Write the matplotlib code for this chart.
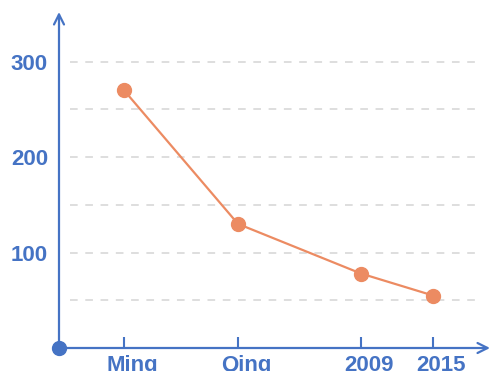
import matplotlib.pyplot as plt
import matplotlib.transforms as mtransforms

# data
periods = ["Ming", "Qing", "2009", "2015"]
x_pos = [0.65, 1.79, 3.02, 3.74]      # uneven spacing as in the picture
values = [270, 130, 78, 55]
y_major = [100, 200, 300]
y_minor = [50, 150, 250]

blue = "#4573C4"
orange = "#EC8B62"
grid_col = "#D4D4D4"

plt.rcParams["font.family"] = ["Liberation Sans", "DejaVu Sans"]

fig = plt.figure(figsize=(4.93, 3.71), dpi=100)
ax = fig.add_axes([59 / 493, 23 / 371, 431 / 493, 336 / 371])
ax.set_xlim(0, 4.31)
ax.set_ylim(0, 352)

# dashed gridlines
for y in y_major + y_minor:
    ax.plot([0.11, 4.19], [y, y], color=grid_col, lw=1.1, ls=(0, (5, 5)), zorder=1)

ax.plot(x_pos, values, color=orange, lw=1.6, marker="o", ms=10,
        markerfacecolor=orange, markeredgecolor=orange, zorder=3)

for s in ax.spines.values():
    s.set_visible(False)

# axes with arrows
arrow = dict(arrowstyle="->", color=blue, lw=1.6, mutation_scale=18,
             shrinkA=0, shrinkB=0)
ax.annotate("", xy=(1.0, 0), xytext=(0, 0), xycoords="axes fraction", arrowprops=arrow)
ax.annotate("", xy=(0, 1.0), xytext=(0, 0), xycoords="axes fraction", arrowprops=arrow)
ax.plot([0], [0], marker="o", ms=10, color=blue, clip_on=False, zorder=5)

ax.set_xticks(x_pos)
ax.set_xticklabels(periods)
ax.set_yticks(y_major)
ax.tick_params(axis="x", direction="in", length=8, width=1.5, color=blue,
               labelcolor=blue, labelsize=16, pad=5)
ax.tick_params(axis="y", length=0, labelcolor=blue, labelsize=16, pad=8)
shift = mtransforms.ScaledTranslation(8 / 100, 0, fig.dpi_scale_trans)
for lab in ax.get_xticklabels():
    lab.set_fontweight("bold")
    lab.set_transform(lab.get_transform() + shift)
for lab in ax.get_yticklabels():
    lab.set_fontweight("bold")

fig.savefig("out.png", dpi=100)
